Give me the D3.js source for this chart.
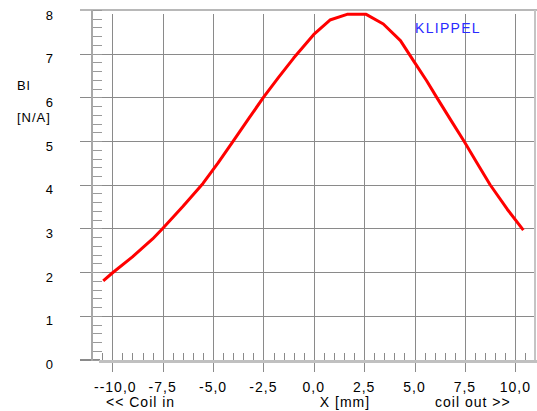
<!DOCTYPE html>
<html>
<head>
<meta charset="utf-8">
<script src="https://cdn.jsdelivr.net/npm/d3@7"></script>
<style>
  body { margin: 0; background: #fff; }
  text { font-family: "Liberation Sans", Arial, sans-serif; fill: #000; }
</style>
</head>
<body>
<div id="chart"></div>
<script>
// Bl(x) curve
var xPos = [-10.45, -10, -9, -8, -7.5, -6.5, -5.5, -4.75, -4, -3.25, -2.5, -1.75, -1, 0, 0.8, 1.65, 2.6, 3.45, 4.3, 5.0, 5.6, 6.1, 6.8, 7.45, 8.1, 8.75, 9.6, 10.4];
var blValues = [1.80, 1.98, 2.35, 2.76, 3.00, 3.50, 4.03, 4.50, 5.00, 5.50, 6.00, 6.46, 6.90, 7.44, 7.77, 7.90, 7.90, 7.68, 7.30, 6.80, 6.38, 6.00, 5.48, 5.00, 4.50, 4.00, 3.44, 2.96];
var xTicks = [-10, -7.5, -5, -2.5, 0, 2.5, 5, 7.5, 10];
var xTickLabels = ["--10,0", "-7,5", "-5,0", "-2,5", "0,0", "2,5", "5,0", "7,5", "10,0"];
var yTicks = [0, 1, 2, 3, 4, 5, 6, 7, 8];

var width = 537, height = 411;

var svg = d3.select("#chart")
  .append("svg")
    .attr("width", width)
    .attr("height", height);

// scales
var x = d3.scaleLinear().domain([-10, 10]).range([112.3, 515.3]);
var y = d3.scaleLinear().domain([0, 8]).range([359.5, 10]);

// horizontal grid lines
svg.append("g")
  .selectAll("line")
  .data(yTicks.slice(0, 8))
  .enter()
  .append("line")
    .attr("x1", 80)
    .attr("x2", 535)
    .attr("y1", function(d) { return Math.round(y(d)) + 0.5; })
    .attr("y2", function(d) { return Math.round(y(d)) + 0.5; })
    .attr("stroke", "#8a8a8a")
    .attr("stroke-width", 1);

// top frame line
svg.append("line")
  .attr("x1", 80).attr("x2", 537)
  .attr("y1", y(8)).attr("y2", y(8))
  .attr("stroke", "#b8b8b8")
  .attr("stroke-width", 2);

// right frame line
svg.append("line")
  .attr("x1", 535).attr("x2", 535)
  .attr("y1", y(8)).attr("y2", 361)
  .attr("stroke", "#c4c4c4")
  .attr("stroke-width", 2);

// vertical grid lines (extend into major ticks below the axis)
svg.append("g")
  .selectAll("line")
  .data(xTicks)
  .enter()
  .append("line")
    .attr("x1", function(d) { return Math.round(x(d)) + 0.5; })
    .attr("x2", function(d) { return Math.round(x(d)) + 0.5; })
    .attr("y1", 14)
    .attr("y2", 372)
    .attr("stroke", "#8a8a8a")
    .attr("stroke-width", 1);

// y minor ticks
var yMinor = d3.range(0, 8.001, 0.2);
svg.append("g")
  .selectAll("line")
  .data(yMinor)
  .enter()
  .append("line")
    .attr("x1", 92)
    .attr("x2", 102)
    .attr("y1", function(d) { return Math.round(y(d)) + 0.5; })
    .attr("y2", function(d) { return Math.round(y(d)) + 0.5; })
    .attr("stroke", "#9a9a9a")
    .attr("stroke-width", 1);

// x minor ticks
var xMinor = d3.range(-10.5, 10.51, 0.5);
svg.append("g")
  .selectAll("line")
  .data(xMinor)
  .enter()
  .append("line")
    .attr("x1", function(d) { return Math.round(x(d)) + 0.5; })
    .attr("x2", function(d) { return Math.round(x(d)) + 0.5; })
    .attr("y1", 353)
    .attr("y2", 360)
    .attr("stroke", "#8a8a8a")
    .attr("stroke-width", 1);

// zero grid stub on the left
svg.append("line")
  .attr("x1", 80).attr("x2", 100)
  .attr("y1", 359.5).attr("y2", 359.5)
  .attr("stroke", "#8a8a8a");

// left axis line
svg.append("line")
  .attr("x1", 92).attr("x2", 92)
  .attr("y1", y(8)).attr("y2", 361)
  .attr("stroke", "#a8a8a8")
  .attr("stroke-width", 2);

// bottom axis line
svg.append("line")
  .attr("x1", 99).attr("x2", 537)
  .attr("y1", 361.5).attr("y2", 361.5)
  .attr("stroke", "#c0c0c0")
  .attr("stroke-width", 3);

// y tick labels
svg.append("g")
  .selectAll("text")
  .data(yTicks)
  .enter()
  .append("text")
    .attr("x", 53)
    .attr("y", function(d) { return y(d) + 9.5; })
    .attr("text-anchor", "end")
    .style("font-size", "13px")
    .text(function(d) { return d; });

// x tick labels
svg.append("g")
  .selectAll("text")
  .data(xTicks)
  .enter()
  .append("text")
    .attr("x", function(d, i) { return x(d) + (i === 0 ? 3 : 0); })
    .attr("y", 391.5)
    .attr("text-anchor", "middle")
    .style("font-size", "14px")
    .style("letter-spacing", "1px")
    .text(function(d, i) { return xTickLabels[i]; });

// axis titles
svg.append("text")
  .attr("x", 17).attr("y", 89.5)
  .style("font-size", "13px")
  .style("letter-spacing", "1px")
  .text("Bl");
svg.append("text")
  .attr("x", 17).attr("y", 122)
  .style("font-size", "13px")
  .style("letter-spacing", "1px")
  .text("[N/A]");

svg.append("text")
  .attr("x", 106).attr("y", 406.5)
  .style("font-size", "14px")
  .style("letter-spacing", "1px")
  .text("<< Coil in");
svg.append("text")
  .attr("x", 345).attr("y", 406.5)
  .attr("text-anchor", "middle")
  .style("font-size", "14px")
  .style("letter-spacing", "1px")
  .text("X [mm]");
svg.append("text")
  .attr("x", 435).attr("y", 406.5)
  .style("font-size", "14px")
  .style("letter-spacing", "1px")
  .text("coil out >>");

svg.append("text")
  .attr("x", 415).attr("y", 32.5)
  .style("font-size", "14px")
  .style("letter-spacing", "1.3px")
  .style("fill", "#2a2aff")
  .text("KLIPPEL");

// the curve
var line = d3.line()
  .x(function(d, i) { return x(xPos[i]); })
  .y(function(d) { return y(d); });

svg.append("path")
  .datum(blValues)
  .attr("d", line)
  .attr("fill", "none")
  .attr("stroke", "#ff0000")
  .attr("stroke-width", 3)
  .attr("stroke-linejoin", "round");
</script>
</body>
</html>
